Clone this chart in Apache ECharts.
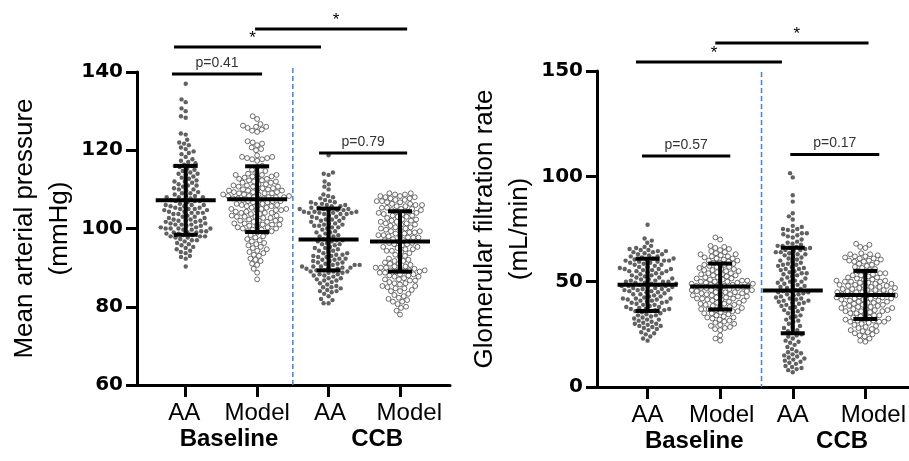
<!DOCTYPE html>
<html><head><meta charset="utf-8">
<script src="https://cdn.jsdelivr.net/npm/echarts@6/dist/echarts.min.js"></script>
<style>html,body{margin:0;padding:0;background:#fff}#c{width:909px;height:461px}</style>
</head><body><div id="c"></div>
<script>
// ---------- DATA ----------
const groupLabels = ['AA', 'Model', 'AA', 'Model'];
const treatmentLabels = ['Baseline', 'CCB'];
const mapTicks = [60, 80, 100, 120, 140];
const gfrTicks = [0, 50, 100, 150];
const mapTitle = 'Mean arterial pressure\n(mmHg)';
const gfrTitle = 'Glomerular filtration rate\n(mL/min)';

// Mean arterial pressure (mmHg)
const mapBaselineAA = [137.0,133.0,132.3,130.7,130.0,128.7,128.3,124.3,124.0,
 122.7,122.0,121.7,121.3,120.7,120.3,119.7,119.3,119.0,
 118.3,117.7,117.3,117.0,116.7,116.3,116.0,116.0,
 115.7,115.3,115.0,114.7,114.3,114.0,114.0,113.7,113.3,
 113.0,112.7,112.3,112.0,112.0,111.7,111.3,111.0,111.0,110.7,110.3,110.0,110.0,
 109.7,109.3,109.0,109.0,108.7,108.3,108.3,108.0,108.0,108.0,107.7,107.3,107.3,107.0,107.0,107.0,106.7,106.3,
 106.0,106.0,106.0,105.7,105.7,105.3,105.3,105.0,105.0,105.0,104.7,104.7,104.3,104.3,104.0,104.0,104.0,103.7,103.7,103.3,103.0,103.0,
 102.7,102.7,102.3,102.3,102.0,102.0,102.0,101.7,101.7,101.3,101.3,101.0,101.0,101.0,100.7,100.7,100.3,100.3,100.0,100.0,100.0,100.0,99.7,99.7,
 99.3,99.3,99.0,99.0,99.0,98.7,98.7,98.3,98.3,98.0,98.0,98.0,97.7,97.7,97.3,97.0,97.0,96.7,96.3,96.0,
 95.7,95.3,95.0,94.7,94.3,94.0,93.7,93.0,92.7,92.3,90.3];
const mapBaselineModel = [128.7,128.0,
 126.7,126.3,126.0,126.0,125.7,125.3,125.0,124.7,
 122.3,122.0,121.7,121.3,120.7,120.3,120.0,
 118.7,118.3,118.3,118.0,118.0,117.7,117.7,117.3,
 116.0,115.7,115.0,114.7,114.3,114.0,113.7,113.7,
 113.7,113.3,113.3,113.0,113.0,112.7,112.7,112.3,112.3,112.0,112.0,111.7,111.7,111.3,111.3,111.0,111.0,110.7,110.7,110.7,110.3,110.3,
 110.0,110.0,110.0,109.7,109.7,109.7,109.3,109.3,109.3,109.0,109.0,109.0,108.7,108.7,108.7,108.3,108.3,108.3,108.0,108.0,108.0,108.0,107.7,107.7,107.7,
 107.3,107.3,107.0,107.0,107.0,106.7,106.7,106.3,106.3,106.0,106.0,106.0,105.7,105.7,105.3,105.3,105.0,105.0,105.0,104.7,104.7,104.7,104.3,104.3,
 104.0,104.0,104.0,103.7,103.7,103.3,103.3,103.0,103.0,103.0,102.7,102.7,102.3,102.3,102.0,102.0,102.0,101.7,101.7,101.3,101.3,101.0,101.0,101.0,
 100.7,100.7,100.3,100.3,100.0,100.0,99.7,99.7,99.3,99.3,99.0,99.0,
 98.3,98.0,97.7,97.3,97.0,96.7,96.3,96.0,
 95.7,95.3,95.0,94.7,94.3,94.0,93.7,93.3,
 93.0,92.3,92.0,91.7,91.0,90.7,89.7,88.7,87.0];
const mapCcbAA = [118.7,114.3,114.0,113.7,112.0,111.3,110.7,110.0,
 108.7,108.3,108.0,107.7,107.3,107.0,106.7,106.7,
 106.3,106.3,106.0,106.0,105.7,105.7,105.3,105.3,105.0,105.0,105.0,104.7,104.7,104.7,104.3,104.3,104.3,104.0,104.0,104.0,104.0,103.7,103.7,103.7,103.3,
 103.0,103.0,102.7,102.7,102.3,102.3,102.0,102.0,101.7,101.3,101.3,101.0,101.0,100.7,100.7,100.3,100.3,100.0,
 99.7,99.3,99.0,99.0,98.7,98.3,98.0,98.0,97.7,97.3,97.0,97.0,96.7,96.7,96.3,
 96.0,96.0,95.7,95.3,95.0,95.0,94.7,94.3,94.3,94.0,93.7,93.7,93.3,93.3,93.0,
 93.0,92.7,92.7,92.3,92.3,92.0,92.0,91.7,91.7,91.3,91.3,91.0,91.0,90.7,90.7,90.7,90.3,90.3,90.3,90.0,90.0,90.0,
 89.7,89.7,89.3,89.3,89.0,89.0,89.0,88.7,88.7,88.3,88.3,88.0,88.0,87.7,87.3,87.3,87.0,86.7,86.7,86.3,
 86.0,85.7,85.3,85.0,85.0,84.7,84.3,84.0,84.0,83.7,
 83.3,82.7,82.0,81.7,80.9,80.9];
const mapCcbModel = [109.0,109.0,108.7,108.7,108.3,108.3,108.0,108.0,
 107.7,107.7,107.3,107.3,107.0,107.0,106.7,106.7,106.3,106.3,106.0,106.0,105.7,105.7,105.3,105.3,105.0,105.0,104.7,104.7,104.3,104.3,
 104.0,104.0,103.7,103.7,103.3,103.3,103.0,103.0,102.7,102.3,102.3,102.0,102.0,101.7,101.7,101.3,101.3,101.0,101.0,100.7,
 100.3,100.3,100.0,100.0,99.7,99.7,99.3,99.3,99.0,99.0,98.7,98.7,98.3,98.3,98.0,98.0,97.7,97.7,97.7,97.3,
 97.0,97.0,96.7,96.3,96.3,96.0,96.0,95.7,95.3,95.3,95.0,94.7,94.7,94.3,94.3,94.0,
 93.7,93.3,93.0,92.7,92.3,92.0,91.7,91.7,91.3,91.0,91.0,90.7,
 90.3,90.3,90.0,90.0,90.0,89.7,89.7,89.3,89.3,89.3,89.0,89.0,89.0,88.7,88.7,88.3,88.3,88.0,88.0,87.7,87.7,87.3,
 87.0,87.0,86.7,86.7,86.3,86.0,86.0,85.7,85.3,85.3,85.0,84.7,84.7,84.3,84.0,84.0,
 83.3,83.0,82.7,82.3,82.0,81.7,81.3,81.3,80.7,80.0,79.7,79.0,78.0];

// Glomerular filtration rate (mL/min)
const gfrBaselineAA = [77,70.5,69.5,68.5,67,66.5,66,65.5,65,65,64.5,64.5,
 64,64,63.5,63,63,62.5,62,62,61.5,61,61,60.5,60.5,60,60,60,59.5,59.5,
 59,59,58.5,58,58,57.5,57,57,56.5,56,56,56,55.5,55.5,55,55,55,54.5,
 54,54,53.5,53,53,52.5,52,52,51.5,51,51,50.5,50.5,50,50,50,
 49.5,49.5,49,49,48.5,48.5,48,48,48,47.5,47.5,47,47,46.5,46.5,46,46,46,45.5,45.5,
 45,45,44.5,44,44,43.5,43,43,42.5,42,42,42,41.5,41.5,41,41,40.5,40.5,
 40,40,39.5,39,39,38.5,38,38,37.5,37,37,37,36.5,36.5,36,36,
 35.5,35,34.5,34,34,33.5,33,32.5,32,32,31.5,31,
 30.5,30,30,29.5,29,29,28.5,28,27.5,27,26,25.5,25,24,23,22];
const gfrBaselineModel = [71,70,67,66.5,66,65.5,65,64.5,
 64,63.5,63,63,62.5,62,62,61.5,61,61,60.5,60,60,59.5,
 59,59,58.5,58,58,57.5,57,57,56.5,56,56,55.5,55.5,55,55,54.5,
 54,54,53.5,53.5,53,53,52.5,52,52,51.5,51.5,51,51,50.5,50.5,50,50,50,
 49.5,49.5,49,49,49,48.5,48.5,48,48,48,47.5,47.5,47,47,47,46.5,46.5,46,46,46,45.5,45.5,
 45,45,45,44.5,44.5,44,44,44,43.5,43.5,43,43,42.5,42.5,42,42,42,41.5,41.5,41,41,40.5,
 40,40,39.5,39.5,39,39,38.5,38,38,37.5,37,37,36.5,36.5,36,36,
 35.5,35,35,34.5,34,33.5,33,33,32.5,32,31.5,31,
 30.5,30,29.5,29,28.5,28,27.5,27,24.5,23,22];
const gfrCcbAA = [101.5,99.5,91,88,82.5,81,79.5,
 76.5,76,75,75,74.5,74,73,73,72.5,72,71.5,71,70,69,68.5,68,
 67.5,67,67,66.5,66,66,65.5,65,65,64.5,64,64,63.5,63,63,62.5,62,61.5,61,60.5,60,59.5,
 59,58.5,58,58,57.5,57,56.5,56,56,55.5,55,54.5,54,54,53.5,53,52.5,52,
 51.5,51,50.5,50,50,49.5,49,48.5,48,48,47.5,47,46.5,46,45.5,45.5,
 45,45,44.5,44,44,43.5,43,42.5,42,42,41.5,41,41,40.5,40,40,39.5,39,
 38.5,38,37.5,37,36.5,36,35.5,35,34,33.5,33,32,31.5,31,
 30,29,28.5,28,27,26.5,26,25,24.5,24,
 23,22,21.5,21,20,19,18,17,
 16.5,16,15.5,15,14.5,14,13.5,13,12.5,12,11.5,11,10,9.5,9,8.5,8,7];
const gfrCcbModel = [68,67.5,66.5,66,
 63.5,63,63,62.5,62,62,61.5,61,61,60.5,60,60,59.5,59.5,
 59,58.5,58,57.5,57,56.5,56,55.5,55,54.5,
 54,54,53.5,53,53,52.5,52,52,51.5,51,51,50.5,50.5,50,50,50,
 49.5,49.5,49,49,48.5,48.5,48,48,48,47.5,47.5,47,47,46.5,46.5,46,46,46,45.5,45.5,
 45,45,45,44.5,44.5,44,44,44,43.5,43.5,43,43,43,42.5,42.5,42,42,42,41.5,41.5,41,41,40.5,40.5,
 40,40,39.5,39.5,39,39,38.5,38.5,38,38,37.5,37.5,37,37,36.5,36.5,36,36,36,35.5,
 35,35,34.5,34,34,33.5,33,33,32.5,32,32,31.5,31.5,31,31,31,
 30.5,30,29.5,29,28.5,28,27.5,27,26.5,26.5,26,25.5,25,24.5,24,23,22,21.5];

// Mean and SD per group
const mapMean = [107.2, 107.5, 97.2, 96.7];
const mapSD = [8.8, 8.4, 7.9, 7.7];
const gfrMean = [48.5, 47.7, 45.8, 43.7];
const gfrSD = [12.4, 10.9, 20.3, 11.4];

// Comparison brackets: [fromX, toX, y, label]
const mapBrackets = [[0.808, 2.069, 139.5, 'p=0.41'], [0.836, 2.894, 146.4, '*'], [1.971, 4.10, 151.0, '*'], [2.867, 4.10, 119.3, 'p=0.79']];
const gfrBrackets = [[0.923, 2.139, 109.6, 'p=0.57'], [2.966, 4.192, 110.4, 'p=0.17'], [0.840, 2.851, 154.3, '*'], [1.933, 4.044, 163.3, '*']];

// ---------- CHART ----------
const chart = echarts.init(document.getElementById('c'), null, {renderer: 'canvas'});
const SANS = 'Liberation Sans, Arial, sans-serif';

const panels = [
  {grid: {left: 137, top: 72, width: 313, height: 313}, xMin: 0.318, xMax: 4.70, ticks: mapTicks, title: mapTitle, nameGap: 58,
   labelPos: [0.98, 2.0, 3.02, 4.13], treatPos: [1.606, 3.68], divider: [2.5, 60, 141],
   groups: [mapBaselineAA, mapBaselineModel, mapCcbAA, mapCcbModel], mean: mapMean, sd: mapSD, brackets: mapBrackets},
  {grid: {left: 597, top: 71, width: 312, height: 316}, xMin: 0.303, xMax: 4.60, ticks: gfrTicks, title: gfrTitle, nameGap: 49,
   labelPos: [1.0, 2.02, 3.0, 4.11], treatPos: [1.643, 3.68], divider: [2.57, 0, 149.5],
   groups: [gfrBaselineAA, gfrBaselineModel, gfrCcbAA, gfrCcbModel], mean: gfrMean, sd: gfrSD, brackets: gfrBrackets}
];

const grids = [], xAxes = [], yAxes = [];
panels.forEach((p, gi) => {
  grids.push(Object.assign({containLabel: false}, p.grid));
  xAxes.push({
    type: 'value', gridIndex: gi, position: 'bottom', min: p.xMin, max: p.xMax,
    axisLine: {show: true, onZero: false, lineStyle: {color: '#000', width: 3}},
    axisTick: {show: true, customValues: [1, 2, 3, 4], length: 12, lineStyle: {color: '#000', width: 3}},
    axisLabel: {show: true, customValues: p.labelPos, margin: 16, fontSize: 24, fontFamily: SANS, color: '#000',
      formatter: v => { const i = p.labelPos.findIndex(q => Math.abs(q - v) < 1e-6); return i >= 0 ? groupLabels[i] : ''; }},
    splitLine: {show: false}
  });
  xAxes.push({
    type: 'value', gridIndex: gi, position: 'bottom', min: p.xMin, max: p.xMax,
    axisLine: {show: false}, axisTick: {show: false}, splitLine: {show: false},
    axisLabel: {show: true, customValues: p.treatPos, margin: 42, fontSize: 24, fontWeight: 'bold', fontFamily: SANS, color: '#000',
      formatter: v => { const i = p.treatPos.findIndex(q => Math.abs(q - v) < 1e-6); return i >= 0 ? treatmentLabels[i] : ''; }}
  });
  yAxes.push({
    type: 'value', gridIndex: gi, min: p.ticks[0], max: p.ticks[p.ticks.length - 1], interval: p.ticks[1] - p.ticks[0],
    axisLine: {show: true, lineStyle: {color: '#000', width: 3}},
    axisTick: {show: true, length: 11, lineStyle: {color: '#000', width: 3}},
    axisLabel: {margin: 14, fontSize: 20, fontWeight: 'bold', fontFamily: 'DejaVu Sans', color: '#000'},
    splitLine: {show: false},
    name: p.title, nameLocation: 'middle', nameGap: p.nameGap, nameRotate: 90,
    nameTextStyle: {fontSize: 26, fontFamily: SANS, color: '#000', lineHeight: 35}
  });
});

chart.setOption({animation: false, grid: grids, xAxis: xAxes, yAxis: yAxes, series: []});

// beeswarm layout in pixel space
function swarm(pys, D) {
  const idx = pys.map((v, i) => i).sort((a, b) => pys[b] - pys[a]);
  const placed = [], out = new Array(pys.length);
  for (const i of idx) {
    const y = pys[i];
    const near = placed.filter(q => Math.abs(q.y - y) < D);
    const cands = [0];
    near.forEach(q => { const dx = Math.sqrt(D * D - (q.y - y) * (q.y - y)); cands.push(q.x + dx, q.x - dx); });
    cands.sort((a, b) => Math.abs(a) - Math.abs(b) || a - b);
    let best = 0;
    for (const c of cands) {
      if (near.every(q => (q.x - c) * (q.x - c) + (q.y - y) * (q.y - y) >= D * D - 1e-6)) { best = c; break; }
    }
    placed.push({x: best, y}); out[i] = best;
  }
  return out;
}

const series = [];
panels.forEach((p, gi) => {
  const xi = gi * 2;
  const a = chart.convertToPixel({xAxisIndex: xi, yAxisIndex: gi}, [1, p.ticks[0]]);
  const b = chart.convertToPixel({xAxisIndex: xi, yAxisIndex: gi}, [2, p.ticks[p.ticks.length - 1]]);
  const pxX = b[0] - a[0];
  const pxY = (a[1] - b[1]) / (p.ticks[p.ticks.length - 1] - p.ticks[0]);
  p.groups.forEach((vals, k) => {
    const isAA = k % 2 === 0;
    const offs = swarm(vals.map(v => -v * pxY), isAA ? 5.0 : 5.2);
    series.push({
      type: 'scatter', xAxisIndex: xi, yAxisIndex: gi, z: 2, symbol: 'circle',
      symbolSize: isAA ? 4.4 : 4.9,
      itemStyle: isAA ? {color: '#3a3a3a'} : {color: '#fff', borderColor: '#4a4a4a', borderWidth: 1},
      data: vals.map((v, j) => [k + 1 + offs[j] / pxX, v]),
      silent: true
    });
  });
  // error bars
  series.push({
    type: 'custom', xAxisIndex: xi, yAxisIndex: gi, z: 5, clip: false, silent: true,
    data: p.mean.map((m, k) => [k + 1, m, p.sd[k]]),
    renderItem: (params, api) => {
      const x = api.value(0), m = api.value(1), s = api.value(2);
      const c = api.coord([x, m]), t = api.coord([x, m + s]), bt = api.coord([x, m - s]);
      const st = {stroke: '#000', lineWidth: 4};
      return {type: 'group', children: [
        {type: 'line', shape: {x1: c[0] - 30, y1: c[1], x2: c[0] + 30, y2: c[1]}, style: st},
        {type: 'line', shape: {x1: c[0], y1: t[1], x2: c[0], y2: bt[1]}, style: st},
        {type: 'line', shape: {x1: c[0] - 12, y1: t[1], x2: c[0] + 12, y2: t[1]}, style: st},
        {type: 'line', shape: {x1: c[0] - 12, y1: bt[1], x2: c[0] + 12, y2: bt[1]}, style: st}
      ]};
    }
  });
  // brackets
  series.push({
    type: 'custom', xAxisIndex: xi, yAxisIndex: gi, z: 6, clip: false, silent: true,
    data: p.brackets.map((br, k) => [br[0], br[1], br[2], k]),
    renderItem: (params, api) => {
      const s = api.coord([api.value(0), api.value(2)]), e = api.coord([api.value(1), api.value(2)]);
      const lab = p.brackets[api.value(3)][3];
      const star = lab === '*';
      return {type: 'group', children: [
        {type: 'line', shape: {x1: s[0], y1: s[1], x2: e[0], y2: e[1]}, style: {stroke: '#000', lineWidth: 3}},
        {type: 'text', style: {text: lab, x: (s[0] + e[0]) / 2 + (star ? 5 : 0), y: s[1] - (star ? 0 : 4),
          align: 'center', verticalAlign: 'bottom', fill: star ? '#000' : '#333',
          font: star ? '17px Liberation Sans, Arial' : '14px Liberation Sans, Arial'}}
      ]};
    }
  });
  // divider
  series.push({
    type: 'custom', xAxisIndex: xi, yAxisIndex: gi, z: 1, clip: false, silent: true,
    data: [p.divider],
    renderItem: (params, api) => {
      const t = api.coord([api.value(0), api.value(2)]), bt = api.coord([api.value(0), api.value(1)]);
      return {type: 'line', shape: {x1: t[0], y1: t[1], x2: bt[0], y2: bt[1]},
        style: {stroke: '#4a7fd6', lineWidth: 1.5, lineDash: [5, 3]}};
    }
  });
});

chart.setOption({series: series});
</script></body></html>
